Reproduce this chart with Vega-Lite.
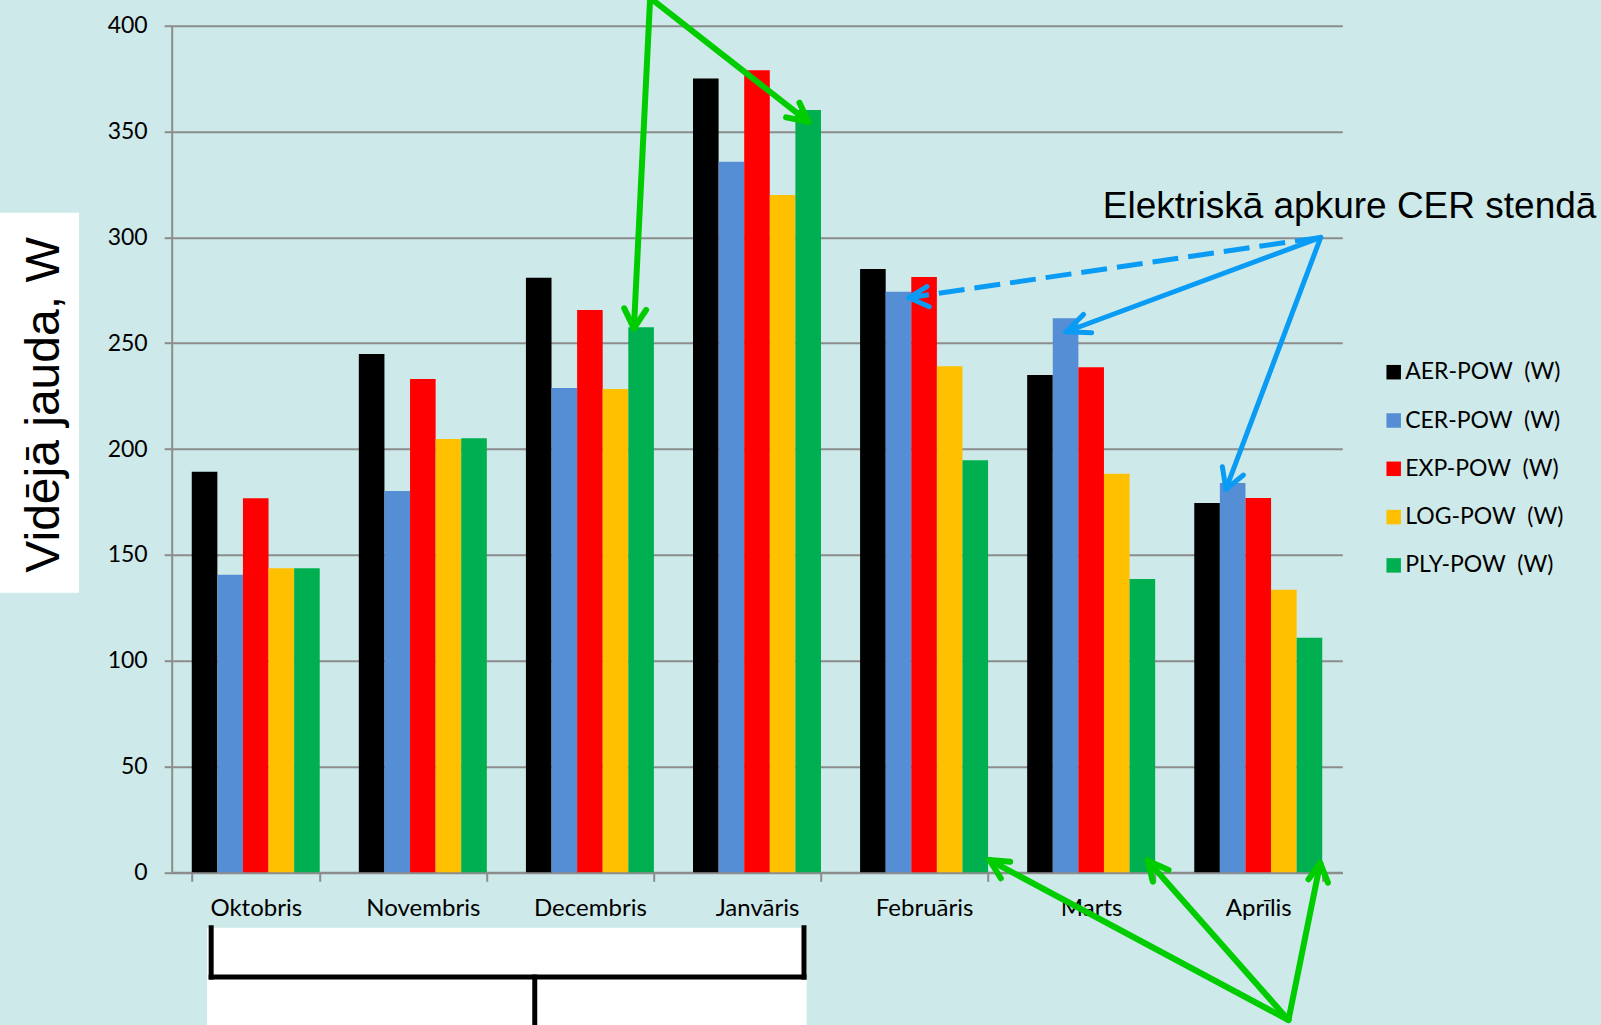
{
  "$schema": "https://vega.github.io/schema/vega-lite/v6.json",
  "width": 1170.6,
  "height": 846.6,
  "autosize": {"type": "none"},
  "padding": {"left": 171.7, "top": 25.7, "right": 258.7, "bottom": 152.7},
  "background": "#cde9e9",
  "config": {
    "view": {"stroke": null},
    "axisY": {
      "grid": true, "gridColor": "#8c8c8c", "gridWidth": 2,
      "domainColor": "#8c8c8c", "domainWidth": 2, "tickColor": "#8c8c8c", "tickWidth": 2, "tickSize": 7.5,
      "labelFont": "Lato", "labelFontSize": 23, "labelColor": "black", "labelPadding": 17
    }
  },
  "datasets": {
    "bars": [
      {"month": "Oktobris", "series": "AER-POW\u00a0 (W)", "value": 189.3},
      {"month": "Oktobris", "series": "CER-POW\u00a0 (W)", "value": 140.6},
      {"month": "Oktobris", "series": "EXP-POW\u00a0 (W)", "value": 176.7},
      {"month": "Oktobris", "series": "LOG-POW\u00a0 (W)", "value": 143.6},
      {"month": "Oktobris", "series": "PLY-POW\u00a0 (W)", "value": 143.6},
      {"month": "Novembris", "series": "AER-POW\u00a0 (W)", "value": 244.9},
      {"month": "Novembris", "series": "CER-POW\u00a0 (W)", "value": 180.2},
      {"month": "Novembris", "series": "EXP-POW\u00a0 (W)", "value": 233.1},
      {"month": "Novembris", "series": "LOG-POW\u00a0 (W)", "value": 204.7},
      {"month": "Novembris", "series": "PLY-POW\u00a0 (W)", "value": 205.1},
      {"month": "Decembris", "series": "AER-POW\u00a0 (W)", "value": 280.9},
      {"month": "Decembris", "series": "CER-POW\u00a0 (W)", "value": 228.8},
      {"month": "Decembris", "series": "EXP-POW\u00a0 (W)", "value": 265.7},
      {"month": "Decembris", "series": "LOG-POW\u00a0 (W)", "value": 228.4},
      {"month": "Decembris", "series": "PLY-POW\u00a0 (W)", "value": 257.5},
      {"month": "Janvāris", "series": "AER-POW\u00a0 (W)", "value": 375.1},
      {"month": "Janvāris", "series": "CER-POW\u00a0 (W)", "value": 335.7},
      {"month": "Janvāris", "series": "EXP-POW\u00a0 (W)", "value": 378.9},
      {"month": "Janvāris", "series": "LOG-POW\u00a0 (W)", "value": 320.0},
      {"month": "Janvāris", "series": "PLY-POW\u00a0 (W)", "value": 360.2},
      {"month": "Februāris", "series": "AER-POW\u00a0 (W)", "value": 285.0},
      {"month": "Februāris", "series": "CER-POW\u00a0 (W)", "value": 274.3},
      {"month": "Februāris", "series": "EXP-POW\u00a0 (W)", "value": 281.3},
      {"month": "Februāris", "series": "LOG-POW\u00a0 (W)", "value": 239.1},
      {"month": "Februāris", "series": "PLY-POW\u00a0 (W)", "value": 194.7},
      {"month": "Marts", "series": "AER-POW\u00a0 (W)", "value": 235.0},
      {"month": "Marts", "series": "CER-POW\u00a0 (W)", "value": 261.8},
      {"month": "Marts", "series": "EXP-POW\u00a0 (W)", "value": 238.6},
      {"month": "Marts", "series": "LOG-POW\u00a0 (W)", "value": 188.3},
      {"month": "Marts", "series": "PLY-POW\u00a0 (W)", "value": 138.6},
      {"month": "Aprīlis", "series": "AER-POW\u00a0 (W)", "value": 174.5},
      {"month": "Aprīlis", "series": "CER-POW\u00a0 (W)", "value": 183.9},
      {"month": "Aprīlis", "series": "EXP-POW\u00a0 (W)", "value": 176.8},
      {"month": "Aprīlis", "series": "LOG-POW\u00a0 (W)", "value": 133.5},
      {"month": "Aprīlis", "series": "PLY-POW\u00a0 (W)", "value": 110.8}
    ],
    "boxes": [
      {"name": "ytitle", "u": -1.03, "u2": -0.554, "v": 311.6, "v2": 132.1},
      {"name": "bracket", "u": 0.211, "u2": 3.797, "v": -26.2, "v2": -75}
    ],
    "lines": [
      {"g": "bracket", "u": 0.236, "v": -26.2, "u2": 0.236, "v2": -49.5},
      {"g": "bracket", "u": 3.781, "v": -26.2, "u2": 3.781, "v2": -49.5},
      {"g": "bracket", "u": 0.236, "v": -49.5, "u2": 3.781, "v2": -49.5},
      {"g": "bracket", "u": 2.171, "v": -49.5, "u2": 2.171, "v2": -75},
      {"g": "green", "u": 2.861, "v": 413.1, "u2": 2.764, "v2": 257.0},
      {"g": "green", "u": 2.764, "v": 257.0, "u2": 2.706, "v2": 266.5},
      {"g": "green", "u": 2.764, "v": 257.0, "u2": 2.837, "v2": 265.7},
      {"g": "green", "u": 2.861, "v": 413.1, "u2": 3.807, "v2": 354.6},
      {"g": "green", "u": 3.807, "v": 354.6, "u2": 3.674, "v2": 356.7},
      {"g": "green", "u": 3.807, "v": 354.6, "u2": 3.754, "v2": 363.6},
      {"g": "green", "u": 6.678, "v": -69.8, "u2": 4.890, "v2": 5.8},
      {"g": "green", "u": 4.890, "v": 5.8, "u2": 5.014, "v2": 5.0},
      {"g": "green", "u": 4.890, "v": 5.8, "u2": 4.958, "v2": -2.8},
      {"g": "green", "u": 6.678, "v": -69.8, "u2": 5.837, "v2": 5.5},
      {"g": "green", "u": 5.837, "v": 5.5, "u2": 5.867, "v2": -4.4},
      {"g": "green", "u": 5.837, "v": 5.5, "u2": 5.961, "v2": 1.1},
      {"g": "green", "u": 6.678, "v": -69.8, "u2": 6.868, "v2": 4.3},
      {"g": "green", "u": 6.868, "v": 4.3, "u2": 6.798, "v2": -3.3},
      {"g": "green", "u": 6.868, "v": 4.3, "u2": 6.914, "v2": -4.9},
      {"g": "blue", "u": 6.871, "v": 300.0, "u2": 5.348, "v2": 255.4},
      {"g": "blue", "u": 5.348, "v": 255.4, "u2": 5.453, "v2": 263.6},
      {"g": "blue", "u": 5.348, "v": 255.4, "u2": 5.501, "v2": 254.9},
      {"g": "blue", "u": 6.871, "v": 300.0, "u2": 6.304, "v2": 181.0},
      {"g": "blue", "u": 6.304, "v": 181.0, "u2": 6.283, "v2": 191.6},
      {"g": "blue", "u": 6.304, "v": 181.0, "u2": 6.409, "v2": 187.7},
      {"g": "blue", "u": 4.409, "v": 271.5, "u2": 4.516, "v2": 276.7},
      {"g": "blue", "u": 4.409, "v": 271.5, "u2": 4.530, "v2": 267.2},
      {"g": "bluedash", "u": 6.871, "v": 300.0, "u2": 4.409, "v2": 271.5}
    ],
    "notes": [
      {"text": "Elektriskā apkure CER stendā", "u": 5.568, "v": 309.0}
    ],
    "ytitle": [
      {"text": "Vidējā jauda, W", "u": -0.672, "v": 220.8}
    ]
  },
  "resolve": {"scale": {"x": "independent"}},
  "layer": [
    {
      "data": {"name": "bars"},
      "mark": {"type": "bar"},
      "encoding": {
        "x": {
          "field": "month", "type": "nominal",
          "sort": ["Oktobris", "Novembris", "Decembris", "Janvāris", "Februāris", "Marts", "Aprīlis"],
          "scale": {"paddingInner": 0.234, "paddingOuter": 0.12},
          "axis": {
            "title": null, "labelAngle": 0, "tickBand": "extent", "ticks": true, "tickSize": 9,
            "tickColor": "#8c8c8c", "tickWidth": 2, "domainColor": "#8c8c8c", "domainWidth": 2,
            "labelFont": "Lato", "labelFontSize": 24, "labelColor": "black", "labelPadding": 15, "grid": false
          }
        },
        "xOffset": {
          "field": "series", "type": "nominal",
          "sort": ["AER-POW\u00a0 (W)", "CER-POW\u00a0 (W)", "EXP-POW\u00a0 (W)", "LOG-POW\u00a0 (W)", "PLY-POW\u00a0 (W)"],
          "scale": {"paddingInner": 0, "paddingOuter": 0}
        },
        "y": {
          "field": "value", "type": "quantitative",
          "scale": {"domain": [0, 400], "nice": false, "zero": false},
          "axis": {
            "values": [0, 50, 100, 150, 200, 250, 300, 350, 400],
            "title": null
          }
        },
        "color": {
          "field": "series", "type": "nominal",
          "scale": {
            "domain": ["AER-POW\u00a0 (W)", "CER-POW\u00a0 (W)", "EXP-POW\u00a0 (W)", "LOG-POW\u00a0 (W)", "PLY-POW\u00a0 (W)"],
            "range": ["#000000", "#558ed5", "#ff0000", "#ffc000", "#00b050"]
          },
          "legend": {
            "title": null, "orient": "none", "legendX": 1210.5, "legendY": 335,
            "symbolType": "square", "symbolSize": 210, "symbolStrokeWidth": 0,
            "labelFont": "Lato", "labelFontSize": 23, "labelColor": "black", "labelOffset": 0,
            "rowPadding": 24.3, "padding": 0
          }
        }
      }
    },
    {
      "data": {"name": "boxes"},
      "mark": {"type": "rect", "fill": "white", "clip": false},
      "encoding": {
        "x": {"field": "u", "type": "quantitative", "scale": {"domain": [0, 7], "nice": false, "zero": false}, "axis": null},
        "x2": {"field": "u2"},
        "y": {"field": "v", "type": "quantitative", "scale": {"domain": [0, 400], "nice": false, "zero": false}},
        "y2": {"field": "v2"}
      }
    },
    {
      "data": {"name": "ytitle"},
      "mark": {"type": "text", "font": "Liberation Sans", "fontSize": 48, "color": "black", "angle": 270, "align": "center", "baseline": "alphabetic", "clip": false},
      "encoding": {
        "x": {"field": "u", "type": "quantitative", "scale": {"domain": [0, 7], "nice": false, "zero": false}, "axis": null},
        "y": {"field": "v", "type": "quantitative", "scale": {"domain": [0, 400], "nice": false, "zero": false}},
        "text": {"field": "text"}
      }
    },
    {
      "data": {"name": "lines"},
      "transform": [{"filter": "datum.g === 'bracket'"}],
      "mark": {"type": "rule", "color": "black", "strokeWidth": 5, "strokeCap": "square", "clip": false},
      "encoding": {
        "x": {"field": "u", "type": "quantitative", "scale": {"domain": [0, 7], "nice": false, "zero": false}, "axis": null},
        "x2": {"field": "u2"},
        "y": {"field": "v", "type": "quantitative", "scale": {"domain": [0, 400], "nice": false, "zero": false}},
        "y2": {"field": "v2"}
      }
    },
    {
      "data": {"name": "lines"},
      "transform": [{"filter": "datum.g === 'green'"}],
      "mark": {"type": "rule", "color": "#00cc00", "strokeWidth": 6, "strokeCap": "round", "clip": false},
      "encoding": {
        "x": {"field": "u", "type": "quantitative", "scale": {"domain": [0, 7], "nice": false, "zero": false}, "axis": null},
        "x2": {"field": "u2"},
        "y": {"field": "v", "type": "quantitative", "scale": {"domain": [0, 400], "nice": false, "zero": false}},
        "y2": {"field": "v2"}
      }
    },
    {
      "data": {"name": "lines"},
      "transform": [{"filter": "datum.g === 'blue'"}],
      "mark": {"type": "rule", "color": "#0a9cf5", "strokeWidth": 5, "strokeCap": "round", "clip": false},
      "encoding": {
        "x": {"field": "u", "type": "quantitative", "scale": {"domain": [0, 7], "nice": false, "zero": false}, "axis": null},
        "x2": {"field": "u2"},
        "y": {"field": "v", "type": "quantitative", "scale": {"domain": [0, 400], "nice": false, "zero": false}},
        "y2": {"field": "v2"}
      }
    },
    {
      "data": {"name": "lines"},
      "transform": [{"filter": "datum.g === 'bluedash'"}],
      "mark": {"type": "rule", "color": "#0a9cf5", "strokeWidth": 5, "strokeDash": [26, 10], "clip": false},
      "encoding": {
        "x": {"field": "u", "type": "quantitative", "scale": {"domain": [0, 7], "nice": false, "zero": false}, "axis": null},
        "x2": {"field": "u2"},
        "y": {"field": "v", "type": "quantitative", "scale": {"domain": [0, 400], "nice": false, "zero": false}},
        "y2": {"field": "v2"}
      }
    },
    {
      "data": {"name": "notes"},
      "mark": {"type": "text", "font": "Liberation Sans", "fontSize": 37, "color": "black", "align": "left", "baseline": "alphabetic", "clip": false},
      "encoding": {
        "x": {"field": "u", "type": "quantitative", "scale": {"domain": [0, 7], "nice": false, "zero": false}, "axis": null},
        "y": {"field": "v", "type": "quantitative", "scale": {"domain": [0, 400], "nice": false, "zero": false}},
        "text": {"field": "text"}
      }
    }
  ]
}
